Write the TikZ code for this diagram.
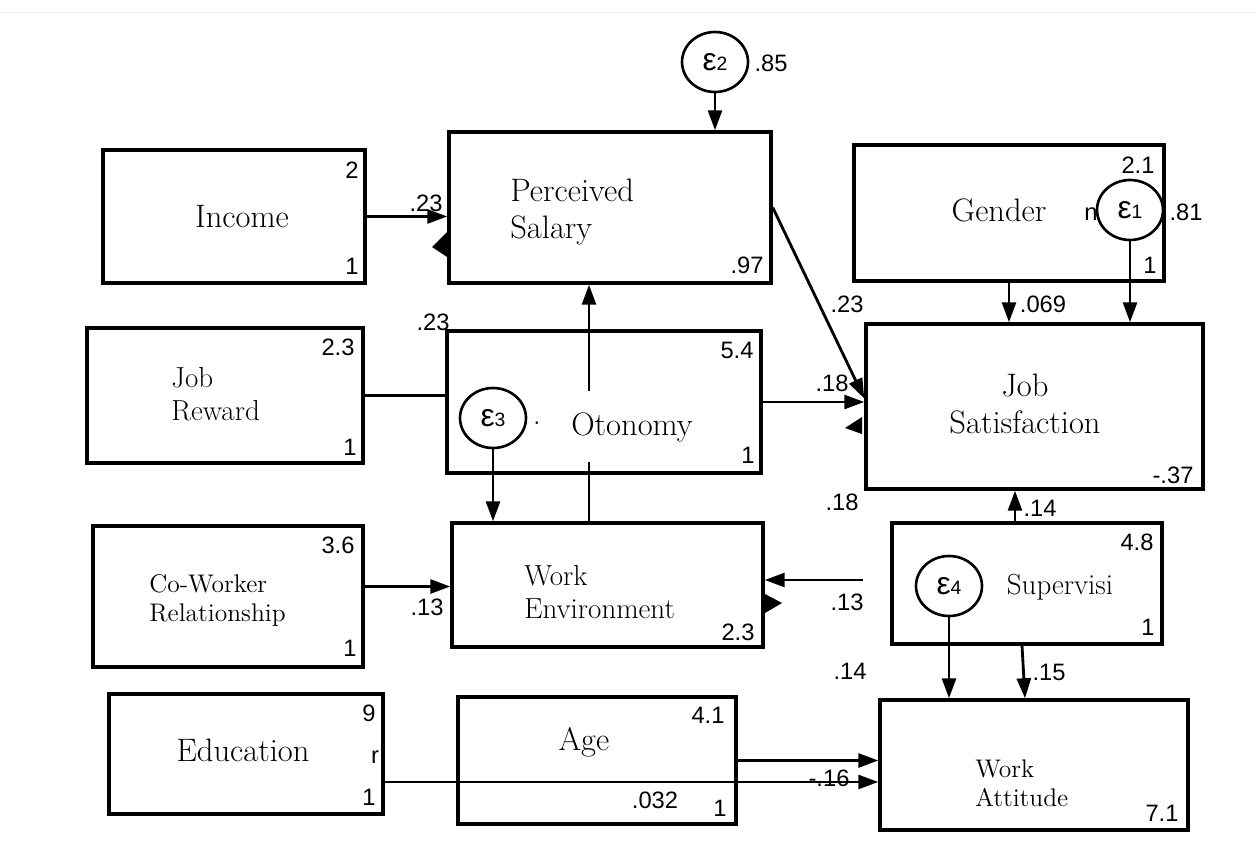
\documentclass[tikz,border=0pt]{standalone}
\usepackage{fontspec}
\setsansfont{Liberation Sans}
\usetikzlibrary{arrows.meta,shapes.geometric}
\newcommand{\errsym}[1]{{\fontsize{18}{18}\selectfont ε}{\fontsize{11}{11}\selectfont #1}}

\begin{document}
\begin{tikzpicture}[
  x=0.02cm, y=-0.02cm,
  >={Triangle[length=4mm, width=2.8mm]},
  var/.style={draw=black, line width=2pt, inner sep=0pt},
  err/.style={
    ellipse, draw=black, line width=1.5pt, inner sep=0pt,
    minimum width=1.32cm, minimum height=1.2cm, font=\sffamily
  },
  eff/.style={->, line width=1.6pt},
  link/.style={line width=1.6pt},
  vname/.style={font=\fontsize{18.5}{21}\selectfont, inner sep=0pt, align=left},
  vmid/.style={font=\fontsize{16.5}{19}\selectfont, inner sep=0pt, align=left},
  vsmall/.style={font=\fontsize{14.5}{16.5}\selectfont, inner sep=0pt, align=left},
  num/.style={font=\sffamily\fontsize{13.5}{15}\selectfont, inner sep=0pt},
]
  \useasboundingbox (0,0) rectangle (1256,845);
  \draw[black!8] (0,12) -- (1256,12);

  % observed variables
  \node[var, minimum width=5.24cm, minimum height=2.66cm] (income)    at (234, 216.5)  {};
  \node[var, minimum width=6.44cm, minimum height=3.02cm] (salary)    at (610, 207.5)  {};
  \node[var, minimum width=6.2cm,  minimum height=2.72cm] (gender)    at (1009, 213)   {};
  \node[var, minimum width=6.74cm, minimum height=3.3cm]  (jobsat)    at (1034.5, 406.5) {};
  \node[var, minimum width=5.52cm, minimum height=2.7cm]  (reward)    at (225, 395.5)  {};
  \node[var, minimum width=6.28cm, minimum height=2.84cm] (otonomy)   at (604, 402)    {};
  \node[var, minimum width=5.4cm,  minimum height=2.82cm] (coworker)  at (228, 596.5)  {};
  \node[var, minimum width=6.22cm, minimum height=2.48cm] (workenv)   at (607.5, 585)  {};
  \node[var, minimum width=5.4cm,  minimum height=2.42cm] (superv)    at (1027, 583.5) {};
  \node[var, minimum width=6.16cm, minimum height=2.6cm]  (attitude)  at (1034, 765)   {};
  \node[var, minimum width=5.48cm, minimum height=2.4cm]  (education) at (246, 754)    {};
  \node[var, minimum width=5.56cm, minimum height=2.54cm] (age)       at (597, 760.5)  {};

  % variable names
  \node[vname] (income-t) at (242, 217) {Income};
  \node[vname, anchor=west] (salary-t) at (510, 212) {Perceived\\Salary};
  \node[vname] (gender-t) at (999, 210) {Gender};
  \node[vname, align=center] (jobsat-t) at (1025, 404) {Job\\Satisfaction};
  \node[vmid, anchor=west] (reward-t) at (171, 394) {Job\\Reward};
  \node[vname] (otonomy-t) at (632, 427) {Otonomy};
  \node[vsmall, anchor=west] (coworker-t) at (149, 600) {Co-Worker\\Relationship};
  \node[vmid, anchor=west] (workenv-t) at (524, 592) {Work\\Environment};
  \node[vmid] (superv-t) at (1060, 587) {Supervisi};
  \node[vsmall, anchor=west] (attitude-t) at (975, 783) {Work\\Attitude};
  \node[vname] (education-t) at (243, 750) {Education};
  \node[vname] (age-t) at (584, 742) {Age};

  % error terms
  \node[err] (e2) at (715, 62)  {\errsym{2}};
  \node[err] (e1) at (1130, 210) {\errsym{1}};
  \node[err] (e3) at (493, 418) {\errsym{3}};
  \node[err] (e4) at (949, 586) {\errsym{4}};
  \coordinate (oto-up) at (589, 391);
  \coordinate (oto-dn) at (589, 462);
  \coordinate (sup-w)  at (863, 580);

  % paths
  \draw[eff] (income.east) -- (income.east -| salary.west);
  \draw[eff] (e2) -- (e2 |- salary.north);
  \draw[eff] (salary.east) -- ([yshift=0.16cm]jobsat.west);
  \draw[link] (reward.east) -- (reward.east -| otonomy.west);
  \draw[eff] (otonomy.east) -- (otonomy.east -| jobsat.west);
  \draw[eff] (oto-up) -- (oto-up |- salary.south);
  \draw[link] (oto-dn) -- (oto-dn |- workenv.north);
  \draw[eff] (e3) -- (e3 |- workenv.north);
  \draw[eff] ([yshift=0.2cm]coworker.east) -- ([yshift=0.2cm]coworker.east -| workenv.west);
  \draw[eff] (sup-w) -- (sup-w -| workenv.east);
  \draw[eff] ([xshift=-0.24cm]superv.north) -- ([xshift=-0.24cm]superv.north |- jobsat.south);
  \draw[eff] (gender.south) -- (gender.south |- jobsat.north);
  \draw[eff] (e1) -- (e1 |- jobsat.north);
  \draw[eff] (e4) -- (e4 |- attitude.north);
  \draw[eff] ([xshift=-0.1cm]superv.south) -- ([xshift=-0.18cm]attitude.north);
  \draw[eff] (age.east) -- (age.east -| attitude.west);
  \draw[eff] ([yshift=-0.56cm]education.east) -- ([yshift=-0.56cm]education.east -| attitude.west);

  % stray arrow heads
  \fill (432, 247) -- (447, 232) -- (447, 257) -- cycle;
  \fill (845, 428) -- (862, 417) -- (862, 434) -- cycle;
  \fill (782, 603) -- (765, 594) -- (765, 613) -- cycle;

  % means and variances
  \node[num] (income-m)    at (352, 170) {2};
  \node[num] (income-v)    at (352, 266) {1};
  \node[num] (salary-r)    at (747, 265) {.97};
  \node[num] (e2-v)        at (771, 63)  {.85};
  \node[num] (gender-m)    at (1138, 165) {2.1};
  \node[num] (gender-v)    at (1150, 265) {1};
  \node[num] (gender-n)    at (1091, 214) {n};
  \node[num] (e1-v)        at (1186, 212) {.81};
  \node[num] (jobsat-r)    at (1173, 475) {-.37};
  \node[num] (reward-m)    at (338, 347) {2.3};
  \node[num] (reward-v)    at (350, 447) {1};
  \node[num] (otonomy-m)   at (737, 350) {5.4};
  \node[num] (otonomy-v)   at (748, 455) {1};
  \node[num] (e3-dot)      at (537, 424) {$\cdot$};
  \node[num] (workenv-r)   at (738, 632) {2.3};
  \node[num] (coworker-m)  at (338, 545) {3.6};
  \node[num] (coworker-v)  at (350, 648) {1};
  \node[num] (superv-m)    at (1137, 542) {4.8};
  \node[num] (superv-v)    at (1148, 627) {1};
  \node[num] (attitude-r)  at (1162, 813) {7.1};
  \node[num] (education-m) at (369, 713) {9};
  \node[num] (education-r) at (375, 757) {r};
  \node[num] (education-v) at (369, 797) {1};
  \node[num] (age-m)       at (708, 715) {4.1};
  \node[num] (age-v)       at (720, 808) {1};

  % coefficients
  \node[num] (c-income)   at (426, 203) {.23};
  \node[num] (c-reward)   at (433, 322) {.23};
  \node[num] (c-salary)   at (847, 304) {.23};
  \node[num] (c-otonomy)  at (832, 383) {.18};
  \node[num] (c-gender)   at (1043, 304) {.069};
  \node[num] (c-coworker) at (427, 607) {.13};
  \node[num] (c-superv)   at (847, 602) {.13};
  \node[num] (c-jobsat)   at (842, 502) {.18};
  \node[num] (c-supjs)    at (1040, 508) {.14};
  \node[num] (c-attit)    at (850, 671) {.14};
  \node[num] (c-supatt)   at (1049, 672) {.15};
  \node[num] (c-educ)     at (829, 778) {-.16};
  \node[num] (c-age)      at (655, 800) {.032};
\end{tikzpicture}
\end{document}
